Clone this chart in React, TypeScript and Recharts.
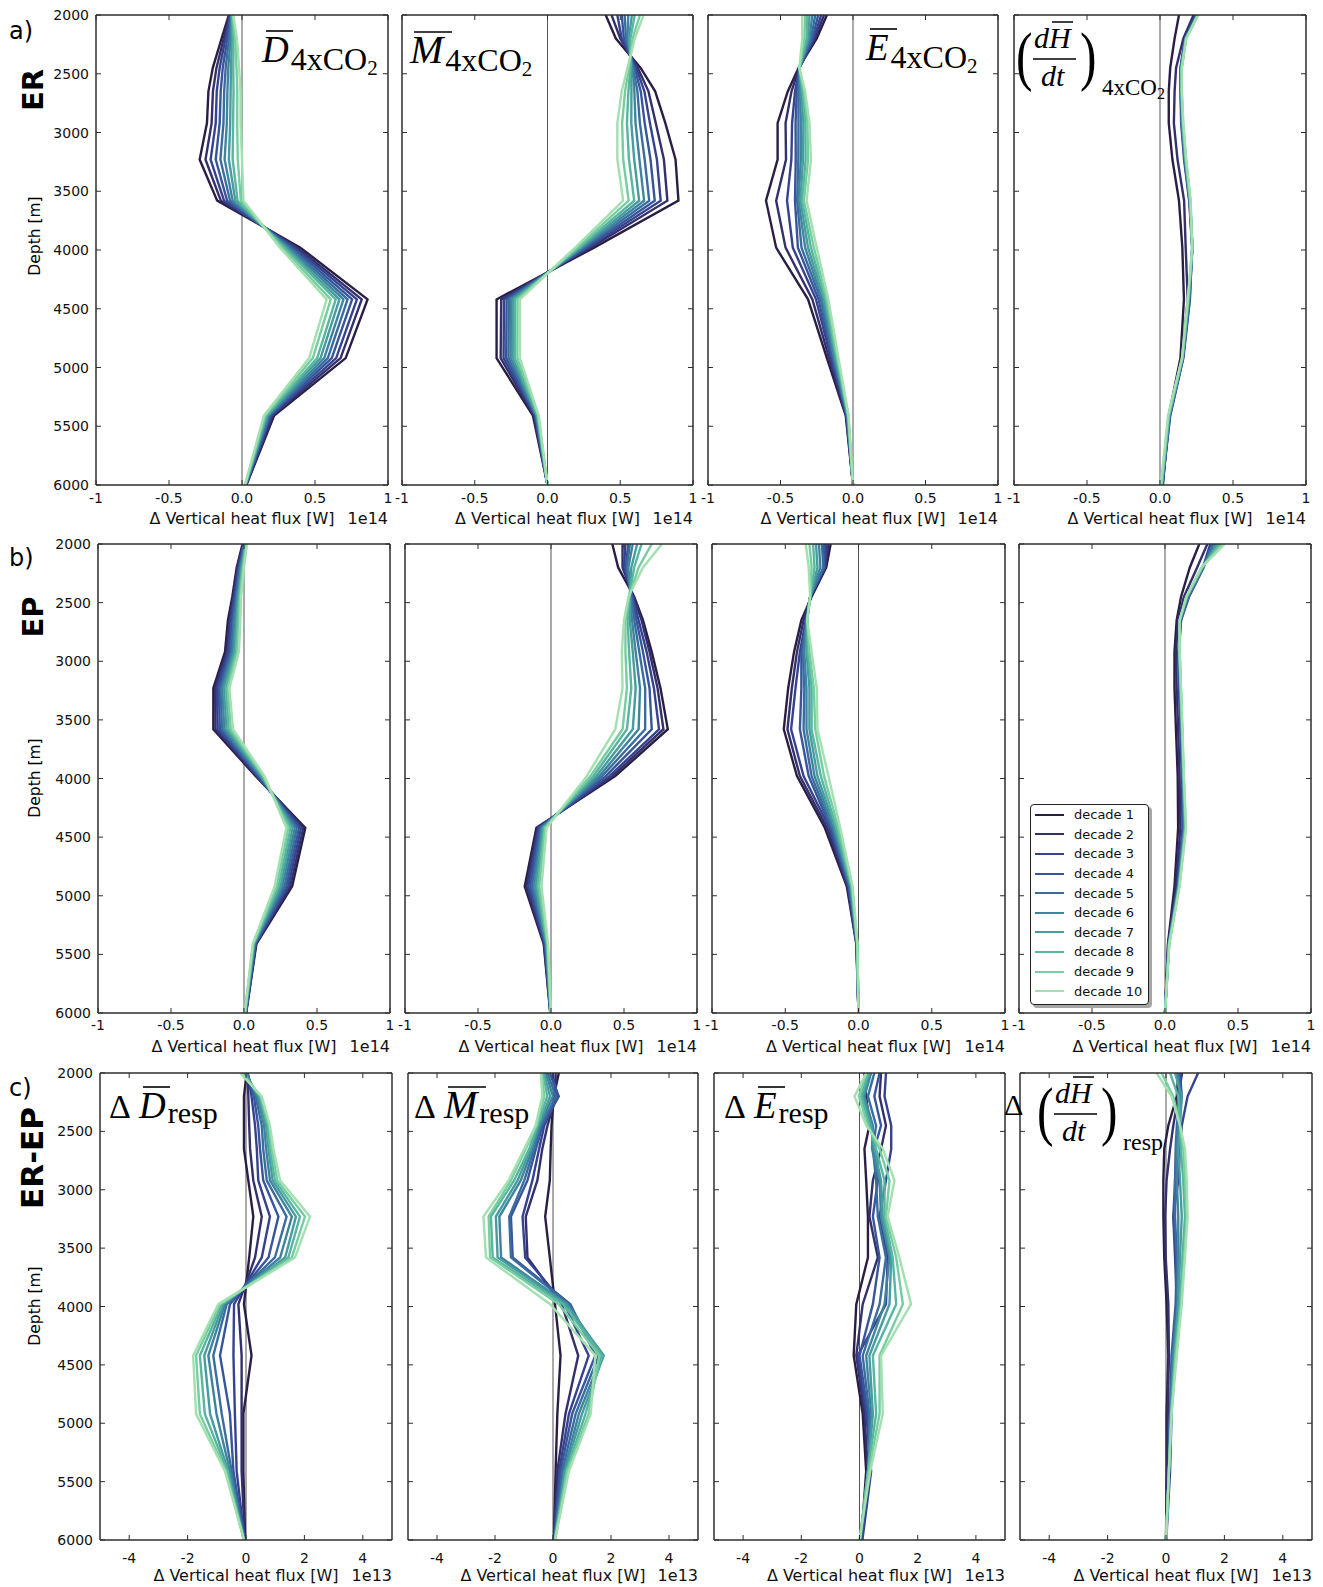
import React from 'react';
import { LineChart, Line, XAxis, YAxis, ReferenceLine, Legend } from 'recharts';

// ---------- data ----------
const DEPTHS = [2000, 2200, 2450, 2650, 2920, 3230, 3580, 3980, 4420, 4920, 5410, 6000];
const DEPTH_TICKS = [2000, 2500, 3000, 3500, 4000, 4500, 5000, 5500, 6000];
const DECADES = ['decade 1', 'decade 2', 'decade 3', 'decade 4', 'decade 5', 'decade 6', 'decade 7', 'decade 8', 'decade 9', 'decade 10'];
const COLORS = ['#2b1e45', '#33306b', '#36428f', '#37559a', '#3a6c9f', '#3f849f', '#479c9f', '#58b59f', '#76cda1', '#a2e0b0'];
const X_TICKS_E14 = [-1, -0.5, 0, 0.5, 1];
const X_LABELS_E14 = ['-1', '-0.5', '0.0', '0.5', '1'];
const X_TICKS_E13 = [-4, -2, 0, 2, 4];
const X_LABELS_E13 = ['-4', '-2', '0', '2', '4'];
const DEPTH_LABELS = ['2000', '2500', '3000', '3500', '4000', '4500', '5000', '5500', '6000'];
const X_LABEL = 'Δ Vertical heat flux [W]';

// each row = one depth level, values for decade 1..10 (units 1e14 W for rows a,b; 1e13 W for row c)
const ER_D = [
  [-0.09, -0.086, -0.082, -0.079, -0.075, -0.072, -0.069, -0.067, -0.063, -0.06],
  [-0.14, -0.125, -0.113, -0.1, -0.089, -0.078, -0.068, -0.058, -0.046, -0.035],
  [-0.2, -0.175, -0.153, -0.132, -0.112, -0.094, -0.076, -0.06, -0.038, -0.02],
  [-0.23, -0.199, -0.173, -0.146, -0.122, -0.1, -0.078, -0.058, -0.032, -0.01],
  [-0.24, -0.208, -0.18, -0.153, -0.127, -0.104, -0.081, -0.061, -0.033, -0.01],
  [-0.29, -0.25, -0.215, -0.18, -0.148, -0.119, -0.09, -0.064, -0.029, 0],
  [-0.17, -0.145, -0.123, -0.102, -0.082, -0.064, -0.046, -0.03, -0.008, 0.01],
  [0.4, 0.38, 0.364, 0.347, 0.331, 0.317, 0.303, 0.291, 0.274, 0.26],
  [0.86, 0.82, 0.787, 0.754, 0.723, 0.695, 0.667, 0.642, 0.608, 0.58],
  [0.71, 0.675, 0.645, 0.615, 0.588, 0.563, 0.538, 0.515, 0.485, 0.46],
  [0.22, 0.21, 0.202, 0.193, 0.186, 0.179, 0.172, 0.165, 0.157, 0.15],
  [0.03, 0.029, 0.027, 0.026, 0.025, 0.024, 0.023, 0.022, 0.021, 0.02],
];
const ER_M = [
  [0.4, 0.44, 0.48, 0.51, 0.53, 0.555, 0.58, 0.6, 0.635, 0.66],
  [0.47, 0.5, 0.51, 0.525, 0.54, 0.55, 0.56, 0.57, 0.585, 0.6],
  [0.64, 0.62, 0.61, 0.6, 0.59, 0.585, 0.575, 0.57, 0.56, 0.55],
  [0.74, 0.694, 0.666, 0.641, 0.618, 0.597, 0.577, 0.556, 0.533, 0.51],
  [0.81, 0.744, 0.704, 0.668, 0.635, 0.605, 0.576, 0.546, 0.513, 0.48],
  [0.88, 0.8, 0.752, 0.708, 0.668, 0.632, 0.596, 0.56, 0.52, 0.48],
  [0.9, 0.824, 0.778, 0.737, 0.699, 0.664, 0.63, 0.596, 0.558, 0.52],
  [0.32, 0.294, 0.278, 0.264, 0.251, 0.239, 0.228, 0.216, 0.203, 0.19],
  [-0.35, -0.318, -0.299, -0.281, -0.265, -0.251, -0.236, -0.222, -0.206, -0.19],
  [-0.35, -0.322, -0.302, -0.284, -0.268, -0.253, -0.238, -0.224, -0.207, -0.19],
  [-0.1, -0.092, -0.087, -0.083, -0.079, -0.075, -0.072, -0.068, -0.064, -0.06],
  [0, 0, 0, 0, 0, 0, 0, 0, 0, 0],
];
const ER_E = [
  [-0.18, -0.2, -0.22, -0.24, -0.26, -0.28, -0.3, -0.315, -0.33, -0.35],
  [-0.25, -0.262, -0.27, -0.28, -0.29, -0.3, -0.31, -0.32, -0.335, -0.35],
  [-0.375, -0.372, -0.37, -0.37, -0.368, -0.37, -0.368, -0.37, -0.37, -0.37],
  [-0.45, -0.424, -0.4, -0.388, -0.376, -0.366, -0.356, -0.347, -0.338, -0.33],
  [-0.52, -0.465, -0.42, -0.396, -0.376, -0.358, -0.342, -0.328, -0.314, -0.3],
  [-0.52, -0.462, -0.425, -0.395, -0.377, -0.36, -0.345, -0.327, -0.31, -0.29],
  [-0.6, -0.53, -0.455, -0.4, -0.385, -0.375, -0.362, -0.35, -0.338, -0.32],
  [-0.53, -0.465, -0.415, -0.38, -0.355, -0.33, -0.31, -0.29, -0.27, -0.25],
  [-0.31, -0.28, -0.255, -0.238, -0.223, -0.212, -0.2, -0.19, -0.18, -0.17],
  [-0.18, -0.165, -0.152, -0.143, -0.135, -0.128, -0.12, -0.113, -0.107, -0.1],
  [-0.05, -0.047, -0.044, -0.042, -0.04, -0.038, -0.036, -0.034, -0.032, -0.03],
  [0, 0, 0, 0, 0, 0, 0, 0, 0, 0],
];
const ER_H = [
  [0.13, 0.23, 0.245, 0.25, 0.255, 0.255, 0.26, 0.26, 0.26, 0.26],
  [0.1, 0.16, 0.17, 0.172, 0.174, 0.176, 0.177, 0.178, 0.179, 0.18],
  [0.07, 0.11, 0.14, 0.142, 0.144, 0.145, 0.146, 0.148, 0.149, 0.15],
  [0.06, 0.1, 0.14, 0.142, 0.144, 0.145, 0.146, 0.148, 0.149, 0.15],
  [0.06, 0.095, 0.145, 0.148, 0.15, 0.152, 0.154, 0.156, 0.158, 0.16],
  [0.085, 0.12, 0.165, 0.168, 0.17, 0.172, 0.174, 0.176, 0.178, 0.18],
  [0.13, 0.165, 0.2, 0.202, 0.204, 0.205, 0.206, 0.207, 0.208, 0.21],
  [0.153, 0.176, 0.22, 0.221, 0.222, 0.222, 0.222, 0.222, 0.222, 0.22],
  [0.164, 0.19, 0.205, 0.203, 0.2, 0.198, 0.196, 0.194, 0.192, 0.19],
  [0.14, 0.15, 0.16, 0.158, 0.156, 0.155, 0.154, 0.153, 0.152, 0.15],
  [0.06, 0.065, 0.07, 0.068, 0.066, 0.064, 0.062, 0.06, 0.058, 0.055],
  [0.02, 0.018, 0.016, 0.015, 0.014, 0.013, 0.012, 0.011, 0.01, 0.005],
];
const EP_D = [
  [-0.01, -0.007, -0.003, 0, 0.003, 0.007, 0.01, 0.013, 0.017, 0.02],
  [-0.05, -0.044, -0.039, -0.033, -0.028, -0.022, -0.017, -0.011, -0.006, 0],
  [-0.08, -0.073, -0.067, -0.06, -0.053, -0.047, -0.04, -0.033, -0.027, -0.02],
  [-0.11, -0.1, -0.091, -0.082, -0.072, -0.063, -0.053, -0.044, -0.034, -0.025],
  [-0.13, -0.119, -0.109, -0.098, -0.088, -0.077, -0.067, -0.056, -0.046, -0.035],
  [-0.21, -0.198, -0.186, -0.173, -0.161, -0.149, -0.137, -0.124, -0.112, -0.1],
  [-0.21, -0.195, -0.18, -0.165, -0.15, -0.135, -0.12, -0.105, -0.09, -0.075],
  [0.08, 0.087, 0.093, 0.1, 0.107, 0.113, 0.12, 0.127, 0.133, 0.14],
  [0.42, 0.406, 0.391, 0.377, 0.362, 0.348, 0.333, 0.319, 0.304, 0.29],
  [0.33, 0.317, 0.303, 0.29, 0.277, 0.263, 0.25, 0.237, 0.223, 0.21],
  [0.085, 0.082, 0.079, 0.077, 0.074, 0.071, 0.068, 0.066, 0.063, 0.06],
  [0.015, 0.014, 0.013, 0.012, 0.011, 0.009, 0.008, 0.007, 0.006, 0.005],
];
const EP_M = [
  [0.42, 0.49, 0.51, 0.53, 0.54, 0.56, 0.59, 0.62, 0.69, 0.76],
  [0.46, 0.49, 0.5, 0.51, 0.52, 0.53, 0.55, 0.57, 0.6, 0.63],
  [0.57, 0.565, 0.56, 0.555, 0.55, 0.545, 0.54, 0.535, 0.535, 0.53],
  [0.63, 0.62, 0.6, 0.585, 0.57, 0.555, 0.54, 0.525, 0.51, 0.5],
  [0.69, 0.675, 0.655, 0.63, 0.605, 0.58, 0.56, 0.535, 0.51, 0.485],
  [0.75, 0.73, 0.705, 0.675, 0.645, 0.61, 0.58, 0.55, 0.52, 0.49],
  [0.8, 0.77, 0.74, 0.69, 0.645, 0.6, 0.56, 0.52, 0.49, 0.44],
  [0.44, 0.42, 0.4, 0.375, 0.35, 0.33, 0.31, 0.29, 0.27, 0.245],
  [-0.1, -0.092, -0.085, -0.077, -0.07, -0.062, -0.055, -0.047, -0.04, -0.03],
  [-0.18, -0.168, -0.155, -0.142, -0.13, -0.117, -0.105, -0.092, -0.08, -0.065],
  [-0.05, -0.047, -0.043, -0.04, -0.037, -0.033, -0.03, -0.027, -0.023, -0.02],
  [-0.005, -0.004, -0.004, -0.003, -0.003, -0.002, -0.002, -0.001, -0.001, 0],
];
const EP_E = [
  [-0.19, -0.205, -0.22, -0.235, -0.25, -0.27, -0.29, -0.31, -0.335, -0.36],
  [-0.22, -0.225, -0.23, -0.235, -0.24, -0.26, -0.28, -0.3, -0.32, -0.34],
  [-0.32, -0.325, -0.33, -0.33, -0.33, -0.33, -0.33, -0.33, -0.33, -0.33],
  [-0.39, -0.375, -0.36, -0.355, -0.355, -0.352, -0.352, -0.35, -0.35, -0.35],
  [-0.44, -0.42, -0.4, -0.39, -0.38, -0.37, -0.355, -0.345, -0.335, -0.32],
  [-0.48, -0.455, -0.43, -0.39, -0.37, -0.355, -0.335, -0.32, -0.305, -0.285],
  [-0.51, -0.485, -0.46, -0.4, -0.375, -0.355, -0.335, -0.32, -0.295, -0.28],
  [-0.42, -0.4, -0.375, -0.34, -0.32, -0.3, -0.28, -0.257, -0.235, -0.205],
  [-0.23, -0.215, -0.2, -0.19, -0.18, -0.17, -0.16, -0.15, -0.137, -0.125],
  [-0.08, -0.075, -0.07, -0.065, -0.06, -0.056, -0.052, -0.048, -0.044, -0.04],
  [-0.015, -0.014, -0.013, -0.012, -0.011, -0.01, -0.009, -0.008, -0.008, -0.007],
  [0, 0, 0, 0, 0, 0, 0, 0, 0, 0],
];
const EP_H = [
  [0.235, 0.29, 0.31, 0.32, 0.33, 0.345, 0.36, 0.375, 0.39, 0.41],
  [0.17, 0.22, 0.26, 0.265, 0.26, 0.26, 0.255, 0.255, 0.25, 0.25],
  [0.11, 0.13, 0.16, 0.165, 0.16, 0.155, 0.15, 0.15, 0.148, 0.145],
  [0.08, 0.09, 0.11, 0.11, 0.105, 0.103, 0.102, 0.101, 0.1, 0.1],
  [0.065, 0.075, 0.09, 0.095, 0.097, 0.098, 0.099, 0.1, 0.1, 0.1],
  [0.065, 0.08, 0.095, 0.1, 0.103, 0.105, 0.107, 0.108, 0.109, 0.11],
  [0.075, 0.09, 0.105, 0.11, 0.112, 0.114, 0.116, 0.117, 0.118, 0.12],
  [0.087, 0.1, 0.115, 0.12, 0.122, 0.124, 0.126, 0.127, 0.128, 0.13],
  [0.09, 0.105, 0.12, 0.125, 0.13, 0.133, 0.136, 0.139, 0.142, 0.145],
  [0.065, 0.075, 0.085, 0.088, 0.09, 0.092, 0.094, 0.096, 0.098, 0.1],
  [0.02, 0.022, 0.024, 0.025, 0.026, 0.027, 0.028, 0.028, 0.029, 0.03],
  [0, 0, 0, 0, 0, 0, 0, 0, 0, 0],
];
const RESP_D = [
  [0.02, 0.05, 0.06, 0.05, 0.03, 0, -0.05, -0.1, -0.15, -0.2],
  [-0.07, 0.08, 0.19, 0.27, 0.33, 0.39, 0.44, 0.48, 0.51, 0.54],
  [-0.07, 0.11, 0.31, 0.42, 0.54, 0.62, 0.69, 0.74, 0.79, 0.82],
  [-0.07, 0.14, 0.37, 0.48, 0.59, 0.69, 0.77, 0.82, 0.88, 0.94],
  [0.08, 0.25, 0.42, 0.59, 0.71, 0.82, 0.91, 0.99, 1.07, 1.17],
  [0.25, 0.54, 0.82, 1.11, 1.39, 1.57, 1.71, 1.85, 2.02, 2.19],
  [0.11, 0.31, 0.54, 0.77, 0.99, 1.17, 1.34, 1.45, 1.57, 1.68],
  [-0.07, -0.26, -0.41, -0.55, -0.66, -0.72, -0.78, -0.83, -0.89, -0.95],
  [0.19, -0.15, -0.43, -0.89, -1.12, -1.29, -1.43, -1.58, -1.71, -1.81],
  [-0.09, -0.15, -0.38, -0.55, -0.83, -1.01, -1.23, -1.41, -1.58, -1.71],
  [-0.09, -0.15, -0.32, -0.43, -0.49, -0.55, -0.61, -0.64, -0.69, -0.72],
  [-0.03, -0.04, -0.05, -0.05, -0.06, -0.06, -0.07, -0.07, -0.07, -0.07],
];
const RESP_M = [
  [0.2, 0.09, -0.02, -0.11, -0.19, -0.25, -0.31, -0.34, -0.39, -0.42],
  [0.03, 0.1, 0.15, 0.2, 0.1, 0.0, -0.1, -0.2, -0.3, -0.37],
  [-0.05, -0.19, -0.3, -0.36, -0.41, -0.46, -0.5, -0.54, -0.57, -0.6],
  [-0.08, -0.37, -0.48, -0.59, -0.65, -0.71, -0.77, -0.82, -0.94, -0.99],
  [-0.11, -0.54, -0.71, -0.88, -0.99, -1.11, -1.22, -1.34, -1.45, -1.53],
  [-0.27, -0.94, -1.05, -1.45, -1.51, -1.85, -1.97, -2.14, -2.22, -2.4],
  [-0.11, -0.88, -0.96, -1.39, -1.45, -1.79, -1.91, -2.08, -2.17, -2.31],
  [0.07, 0.3, 0.4, 0.6, 0.55, 0.5, 0.45, 0.35, 0.2, -0.1],
  [0.26, 0.87, 1.23, 1.46, 1.58, 1.69, 1.75, 1.69, 1.6, 1.46],
  [0.15, 0.43, 0.55, 0.66, 0.78, 0.89, 1.0, 1.12, 1.23, 1.3],
  [0.09, 0.15, 0.21, 0.26, 0.32, 0.38, 0.41, 0.46, 0.49, 0.55],
  [0.03, 0.03, 0.04, 0.04, 0.05, 0.05, 0.06, 0.06, 0.07, 0.07],
];
const RESP_E = [
  [0.17, 0.74, 0.91, 0.69, 0.51, 0.4, 0.34, 0.29, 0.23, 0.23],
  [0.23, 0.69, 0.86, 0.51, 0.29, 0.17, 0.11, 0.06, -0.02, -0.17],
  [0.34, 0.91, 1.09, 0.74, 0.57, 0.46, 0.4, 0.34, 0.29, 0.23],
  [0.17, 0.74, 1.09, 0.51, 0.46, 0.43, 0.51, 0.57, 0.69, 0.8],
  [0.23, 0.46, 0.91, 0.63, 0.57, 0.69, 0.74, 0.86, 1.03, 1.2],
  [0.29, 0.34, 0.69, 0.46, 0.63, 0.74, 0.8, 0.86, 0.91, 0.97],
  [0.29, 0.63, 0.97, 0.69, 0.91, 1.03, 1.09, 1.14, 1.26, 1.37],
  [-0.11, 0.11, 0.91, 0.46, 0.69, 0.86, 1.03, 1.26, 1.49, 1.77],
  [-0.2, -0.11, -0.06, 0, 0.11, 0.23, 0.34, 0.46, 0.69, 0.74],
  [0.11, 0.17, 0.23, 0.29, 0.34, 0.4, 0.46, 0.57, 0.69, 0.8],
  [0.23, 0.29, 0.4, 0.34, 0.32, 0.3, 0.29, 0.29, 0.32, 0.37],
  [0.06, 0.05, 0.1, 0.06, 0.04, 0.03, 0.02, 0.01, 0.01, 0],
];
const RESP_H = [
  [0.42, 0.55, 1.1, 0.48, 0.42, 0.37, 0.31, 0.14, -0.15, -0.32],
  [0.37, 0.42, 0.74, 0.54, 0.48, 0.48, 0.54, 0.42, 0.25, 0.19],
  [0.08, 0.25, 0.54, 0.42, 0.37, 0.42, 0.48, 0.48, 0.48, 0.48],
  [-0.06, 0.14, 0.48, 0.37, 0.33, 0.37, 0.42, 0.51, 0.59, 0.65],
  [-0.09, 0.02, 0.42, 0.31, 0.31, 0.37, 0.48, 0.59, 0.65, 0.71],
  [-0.09, -0.03, 0.25, 0.25, 0.31, 0.42, 0.54, 0.65, 0.71, 0.74],
  [-0.06, -0.01, 0.31, 0.37, 0.37, 0.42, 0.48, 0.56, 0.62, 0.65],
  [0.02, 0.08, 0.37, 0.33, 0.37, 0.4, 0.42, 0.48, 0.51, 0.54],
  [0.08, 0.1, 0.25, 0.19, 0.22, 0.25, 0.29, 0.31, 0.33, 0.37],
  [0.02, 0.06, 0.19, 0.14, 0.14, 0.16, 0.17, 0.18, 0.19, 0.19],
  [0.02, 0.04, 0.14, 0.1, 0.1, 0.1, 0.1, 0.1, 0.1, 0.1],
  [0, 0, 0.01, 0, 0, 0, 0, 0, 0, 0],
];

// ---------- styling ----------
const SANS = "'DejaVu Sans', 'Liberation Sans', Arial, sans-serif";
const SERIF = "'Liberation Serif', 'DejaVu Serif', 'Times New Roman', serif";
const FRAME = '#2e2e2e';
const YAW = 60;
const OUTER_L = 2;
const MR = 10;
const MT = 10;
const ML = OUTER_L + YAW;

function toRows(values: number[][]) {
  return DEPTHS.map((depth, i) => {
    const row: Record<string, number> = { depth };
    values[i].forEach((v, k) => {
      row[`d${k + 1}`] = v;
    });
    return row;
  });
}

type PanelDef = {
  left: number;
  top: number;
  w: number;
  h: number;
  values: number[][];
  exp: 13 | 14;
  yLabels: boolean;
  tickDy: number;
  axisH: number;
  legend?: boolean;
};

const renderLegend = (props: any) => {
  const items = [...(props.payload || [])].sort(
    (a: any, b: any) => DECADES.indexOf(a.value) - DECADES.indexOf(b.value)
  );
  return (
    <div
      style={{
        width: 119,
        height: 201,
        boxSizing: 'border-box',
        border: '1.5px solid #222',
        borderRadius: 4,
        background: '#fff',
        boxShadow: '3px 3px 0 rgba(0,0,0,0.35)',
        fontFamily: SANS,
        fontSize: 13,
        color: '#111',
      }}
    >
      {items.map((it: any) => (
        <div key={it.value} style={{ display: 'flex', alignItems: 'center', height: 19.6 }}>
          <span
            style={{
              display: 'inline-block',
              width: 29,
              marginLeft: 4,
              marginRight: 10,
              borderTop: `2.5px solid ${it.color}`,
            }}
          />
          <span>{it.value}</span>
        </div>
      ))}
    </div>
  );
};

function Panel(p: PanelDef) {
  const ticks = p.exp === 14 ? X_TICKS_E14 : X_TICKS_E13;
  const labels = p.exp === 14 ? X_LABELS_E14 : X_LABELS_E13;
  const domain = p.exp === 14 ? [-1, 1] : [-5, 5];
  const data = toRows(p.values);
  const axisLine = { stroke: FRAME, strokeWidth: 1.5 };

  const bottomTick = (t: any) => {
    const i = ticks.indexOf(t.payload.value);
    return (
      <g>
        <line x1={t.x} x2={t.x} y1={t.y} y2={t.y - 5} stroke={FRAME} strokeWidth={1} />
        <text x={t.x} y={t.y + p.tickDy} textAnchor="middle" fontFamily={SANS} fontSize={14} fill="#111">
          {labels[i]}
        </text>
      </g>
    );
  };
  const topTick = (t: any) => (
    <line x1={t.x} x2={t.x} y1={t.y} y2={t.y + 5} stroke={FRAME} strokeWidth={1} />
  );
  const leftTick = (t: any) => {
    const i = DEPTH_TICKS.indexOf(t.payload.value);
    return (
      <g>
        <line x1={t.x} x2={t.x + 5} y1={t.y} y2={t.y} stroke={FRAME} strokeWidth={1} />
        {p.yLabels && (
          <text x={t.x - 7} y={t.y + 5} textAnchor="end" fontFamily={SANS} fontSize={14} fill="#111">
            {DEPTH_LABELS[i]}
          </text>
        )}
      </g>
    );
  };
  const rightTick = (t: any) => (
    <line x1={t.x} x2={t.x - 5} y1={t.y} y2={t.y} stroke={FRAME} strokeWidth={1} />
  );

  return (
    <div style={{ position: 'absolute', left: p.left - ML, top: p.top - MT }}>
      <LineChart
        layout="vertical"
        width={ML + p.w + MR}
        height={MT + p.h + p.axisH}
        data={data}
        margin={{ top: MT - 1, right: MR - 1, bottom: 0, left: OUTER_L }}
      >
        <XAxis
          xAxisId="bottom"
          orientation="bottom"
          type="number"
          domain={domain}
          ticks={ticks}
          interval={0}
          allowDataOverflow
          height={p.axisH}
          tickSize={0}
          tickMargin={0}
          tickLine={false}
          axisLine={axisLine}
          tick={bottomTick}
        />
        <XAxis
          xAxisId="top"
          orientation="top"
          type="number"
          domain={domain}
          ticks={ticks}
          interval={0}
          allowDataOverflow
          height={1}
          tickSize={0}
          tickMargin={0}
          tickLine={false}
          axisLine={axisLine}
          tick={topTick}
        />
        <YAxis
          yAxisId="left"
          orientation="left"
          type="number"
          dataKey="depth"
          domain={[2000, 6000]}
          ticks={DEPTH_TICKS}
          interval={0}
          allowDataOverflow
          width={YAW}
          tickSize={0}
          tickMargin={0}
          tickLine={false}
          axisLine={axisLine}
          tick={leftTick}
        />
        <YAxis
          yAxisId="right"
          orientation="right"
          type="number"
          dataKey="depth"
          domain={[2000, 6000]}
          ticks={DEPTH_TICKS}
          interval={0}
          allowDataOverflow
          width={1}
          tickSize={0}
          tickMargin={0}
          tickLine={false}
          axisLine={axisLine}
          tick={rightTick}
        />
        <ReferenceLine xAxisId="bottom" yAxisId="left" x={0} stroke="#555" strokeWidth={1} />
        {COLORS.map((c, k) => (
          <Line
            key={k}
            xAxisId="bottom"
            yAxisId="left"
            type="linear"
            dataKey={`d${k + 1}`}
            name={DECADES[k]}
            stroke={c}
            strokeWidth={2.4}
            dot={false}
            activeDot={false}
            isAnimationActive={false}
          />
        ))}
        {p.legend && (
          <Legend
            layout="vertical"
            align="center"
            verticalAlign="middle"
            content={renderLegend}
            wrapperStyle={{ left: 73, top: 270, width: 'auto', height: 'auto' }}
          />
        )}
      </LineChart>
    </div>
  );
}

const PANELS: PanelDef[] = [
  { left: 96, top: 15, w: 292, h: 470, values: ER_D, exp: 14, yLabels: true, tickDy: 18, axisH: 50 },
  { left: 402, top: 15, w: 291, h: 470, values: ER_M, exp: 14, yLabels: false, tickDy: 18, axisH: 50 },
  { left: 708, top: 15, w: 290, h: 470, values: ER_E, exp: 14, yLabels: false, tickDy: 18, axisH: 50 },
  { left: 1014, top: 15, w: 292, h: 470, values: ER_H, exp: 14, yLabels: false, tickDy: 18, axisH: 50 },
  { left: 98, top: 544, w: 292, h: 469, values: EP_D, exp: 14, yLabels: true, tickDy: 17, axisH: 50 },
  { left: 405, top: 544, w: 292, h: 469, values: EP_M, exp: 14, yLabels: false, tickDy: 17, axisH: 50 },
  { left: 712, top: 544, w: 293, h: 469, values: EP_E, exp: 14, yLabels: false, tickDy: 17, axisH: 50 },
  { left: 1019, top: 544, w: 292, h: 469, values: EP_H, exp: 14, yLabels: false, tickDy: 17, axisH: 50, legend: true },
  { left: 100, top: 1073, w: 292, h: 467, values: RESP_D, exp: 13, yLabels: true, tickDy: 23, axisH: 44 },
  { left: 408, top: 1073, w: 290, h: 467, values: RESP_M, exp: 13, yLabels: false, tickDy: 23, axisH: 44 },
  { left: 714, top: 1073, w: 291, h: 467, values: RESP_E, exp: 13, yLabels: false, tickDy: 23, axisH: 44 },
  { left: 1020, top: 1073, w: 292, h: 467, values: RESP_H, exp: 13, yLabels: false, tickDy: 23, axisH: 44 },
];

function SimpleTitle({ x, y, letter, sub, delta, co2 }: { x: number; y: number; letter: string; sub: string; delta?: boolean; co2?: boolean }) {
  const lx = delta ? x + 30 : x;
  const isM = letter === 'M';
  const lw = isM ? 38 : 27;
  return (
    <g fill="#000" fontFamily={SERIF}>
      {delta && (
        <text x={x} y={y} fontSize={34}>
          Δ
        </text>
      )}
      <line x1={lx + 4} x2={lx + 4 + lw} y1={y - 31} y2={y - 31} stroke="#000" strokeWidth={1.6} />
      <text x={lx} y={y}>
        <tspan fontStyle="italic" fontSize={isM ? 40 : 37} textLength={isM ? 40 : undefined}>
          {letter}
        </tspan>
        <tspan fontSize={co2 ? 32 : 30} dx={2} dy={co2 ? 8 : 5}>
          {sub}
        </tspan>
        {co2 && (
          <tspan fontSize={21} dy={5}>
            2
          </tspan>
        )}
      </text>
    </g>
  );
}

function FracTitle({ x, y, sub, co2, delta }: { x: number; y: number; sub: string; co2?: boolean; delta?: boolean }) {
  return (
    <g fill="#000" fontFamily={SERIF}>
      {delta && (
        <text x={x - 33} y={y - 18} fontSize={30}>
          Δ
        </text>
      )}
      <text x={x} y={y} fontSize={66} transform={`translate(${x},${y}) scale(0.75,1) translate(${-x},${-y})`}>
        (
      </text>
      <text x={x + 18} y={y - 30} fontSize={30} fontStyle="italic">
        dH
      </text>
      <line x1={x + 36} x2={x + 57} y1={y - 56} y2={y - 56} stroke="#000" strokeWidth={1.5} />
      <line x1={x + 17} x2={x + 60} y1={y - 19} y2={y - 19} stroke="#000" strokeWidth={1.5} />
      <text x={x + 25} y={y + 8} fontSize={30} fontStyle="italic">
        dt
      </text>
      <text x={x + 64} y={y} fontSize={66} transform={`translate(${x + 64},${y}) scale(0.75,1) translate(${-(x + 64)},${-y})`}>
        )
      </text>
      <text x={x + 86} y={y + 17} fontSize={co2 ? 23 : 24}>
        {sub}
        {co2 && (
          <tspan fontSize={16} dy={4}>
            2
          </tspan>
        )}
      </text>
    </g>
  );
}

function Overlay() {
  const rowLabelY = [
    { l: 'a)', ly: 39, name: 'ER', ny: 90, nfs: 29, dy: 236 },
    { l: 'b)', ly: 566, name: 'EP', ny: 617, nfs: 29, dy: 778 },
    { l: 'c)', ly: 1096, name: 'ER-EP', ny: 1158, nfs: 31, dy: 1306 },
  ];
  return (
    <svg width={1323} height={1587} style={{ position: 'absolute', left: 0, top: 0, pointerEvents: 'none' }}>
      {rowLabelY.map((r) => (
        <g key={r.l} fill="#000">
          <text x={9} y={r.ly} fontSize={24} fontFamily={SANS}>
            {r.l}
          </text>
          <text
            transform={`translate(43,${r.ny}) rotate(-90)`}
            textAnchor="middle"
            fontSize={r.nfs}
            fontWeight="bold"
            fontFamily={SANS}
          >
            {r.name}
          </text>
          <text
            transform={`translate(40,${r.dy}) rotate(-90)`}
            textAnchor="middle"
            fontSize={15.5}
            fontFamily={SANS}
          >
            Depth [m]
          </text>
        </g>
      ))}
      {PANELS.map((p, i) => (
        <g key={i} fill="#111" fontFamily={SANS}>
          <text x={p.left + p.w / 2} y={p.top + p.h + (p.exp === 13 ? 41 : 39)} textAnchor="middle" fontSize={16}>
            {X_LABEL}
          </text>
          <text x={p.left + p.w} y={p.top + p.h + (p.exp === 13 ? 41 : 39)} textAnchor="end" fontSize={16}>
            {p.exp === 14 ? '1e14' : '1e13'}
          </text>
        </g>
      ))}
      <SimpleTitle x={262} y={62} letter="D" sub="4xCO" co2 />
      <SimpleTitle x={410} y={63} letter="M" sub="4xCO" co2 />
      <SimpleTitle x={866} y={60} letter="E" sub="4xCO" co2 />
      <FracTitle x={1016} y={78} sub="4xCO" co2 />
      <SimpleTitle x={109} y={1118} letter="D" sub="resp" delta />
      <SimpleTitle x={414} y={1118} letter="M" sub="resp" delta />
      <SimpleTitle x={724} y={1118} letter="E" sub="resp" delta />
      <FracTitle x={1037} y={1133} sub="resp" delta />
    </svg>
  );
}

export default function App() {
  return (
    <div
      style={{
        position: 'absolute',
        left: 0,
        top: 0,
        width: 1323,
        height: 1587,
        overflow: 'hidden',
        background: '#fff',
      }}
    >
      {PANELS.map((p, i) => (
        <Panel key={i} {...p} />
      ))}
      <Overlay />
    </div>
  );
}
